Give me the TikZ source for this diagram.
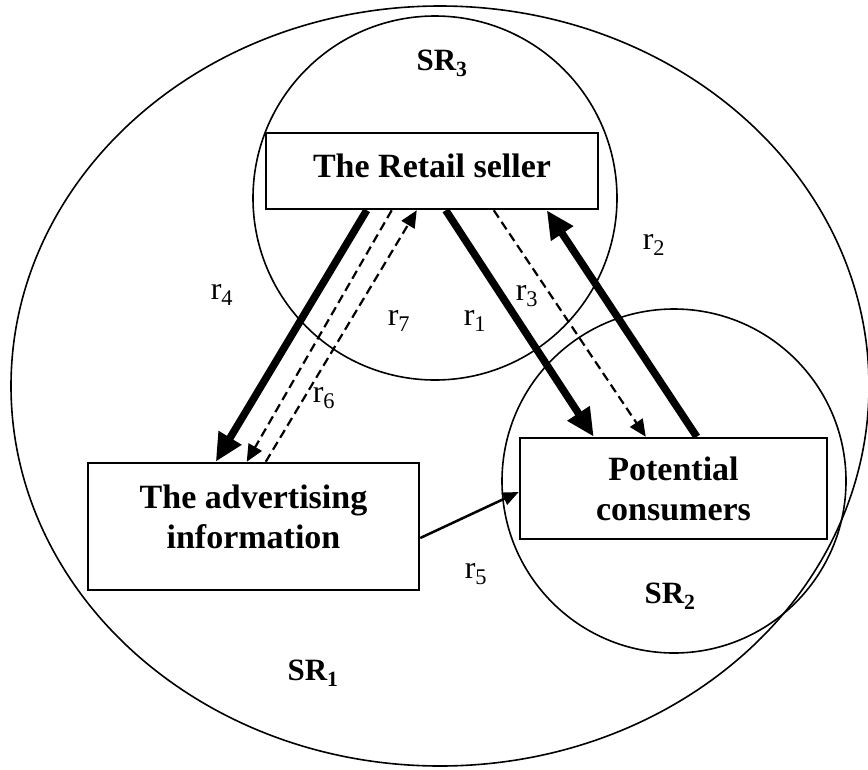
\documentclass[tikz,border=0pt]{standalone}
\usepackage{fontspec}
\setmainfont{Liberation Serif}
\usetikzlibrary{arrows.meta, positioning}

\begin{document}
\begin{tikzpicture}[
                x=1pt, y=-1pt,
                region/.style={draw, line width=1.6pt},
                box/.style={rectangle, draw=black, line width=2.5pt, fill=white, align=center, inner sep=0pt, font=\fontsize{34}{40}\selectfont\bfseries},
                srlabel/.style={font=\fontsize{31}{36}\selectfont\bfseries},
                rlabel/.style={font=\fontsize{32}{38}\selectfont},
                thickarrow/.style={line width=7.5pt, -{Triangle[length=28pt,width=25pt]}},
                dasharrow/.style={line width=2.2pt, dash pattern=on 9pt off 5pt, -{Triangle[length=17pt,width=15pt]}},
                thinarrow/.style={line width=2.5pt, -{Triangle[length=16pt,width=13pt]}}
            ]
                \useasboundingbox (0,0) rectangle (868,769);

                \draw [region] (440,386) ellipse (429 and 380);
                \draw [region] (435,198) circle (182);
                \draw [region] (674,481) circle (172);

                \node (retail) [box, minimum width=332pt, minimum height=76pt, text depth=11pt] at (432,171) {The Retail seller};
                \node (advert) [box, minimum width=331pt, minimum height=127pt, text depth=19pt] at (253.5,526.5) {The advertising\\information};
                \node (consumer) [box, minimum width=307pt, minimum height=101pt] at (673.5,488.5) {Potential\\consumers};

                \node (sr1) [srlabel] at (313,673) {SR\textsubscript{1}};
                \node (sr2) [srlabel] at (670,596) {SR\textsubscript{2}};
                \node (sr3) [srlabel] at (442,63) {SR\textsubscript{3}};

                \draw [thickarrow] ([xshift=102pt]retail.south west) -- ([xshift=129pt]advert.north west);
                \draw [dasharrow] ([xshift=127pt]retail.south west) -- ([xshift=160pt]advert.north west);
                \draw [dasharrow] ([xshift=179pt]advert.north west) -- ([xshift=152pt]retail.south west);
                \draw [thickarrow] ([xshift=181pt]retail.south west) -- ([xshift=75pt]consumer.north west);
                \draw [dasharrow] ([xshift=229pt]retail.south west) -- ([xshift=127pt]consumer.north west);
                \draw [thickarrow] ([xshift=178pt]consumer.north west) -- ([xshift=282pt]retail.south west);
                \draw [thinarrow] ([yshift=-11.5pt]advert.east) -- ([yshift=-3.5pt]consumer.west);

                \node (r1) [rlabel] at (475,321) {r\textsubscript{1}};
                \node (r2) [rlabel] at (654,245) {r\textsubscript{2}};
                \node (r3) [rlabel] at (527,296) {r\textsubscript{3}};
                \node (r4) [rlabel] at (222,295) {r\textsubscript{4}};
                \node (r5) [rlabel] at (476,574) {r\textsubscript{5}};
                \node (r6) [rlabel] at (324,398) {r\textsubscript{6}};
                \node (r7) [rlabel] at (399,321) {r\textsubscript{7}};
            \end{tikzpicture}
\end{document}
